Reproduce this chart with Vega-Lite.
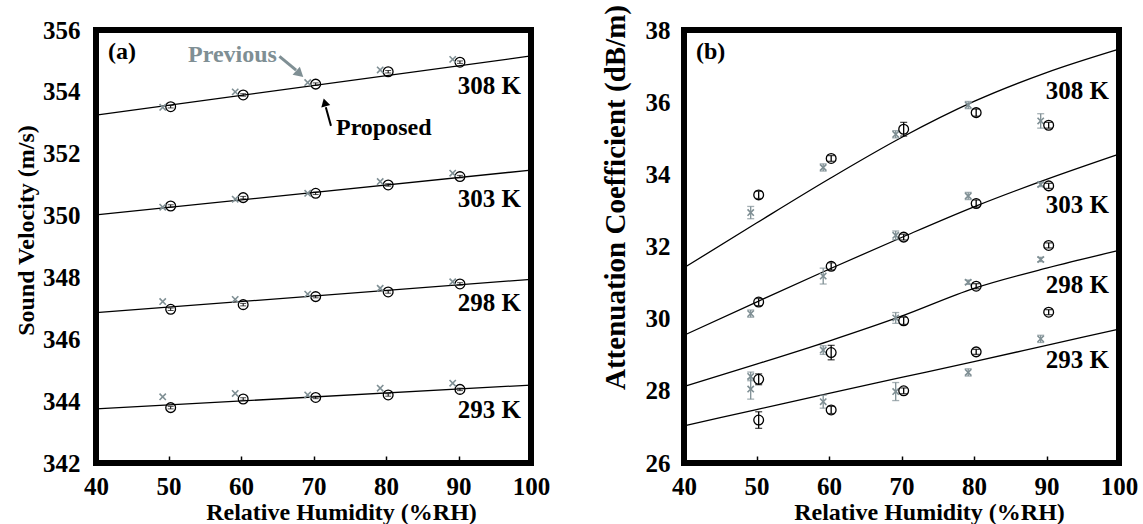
{
  "$schema": "https://vega.github.io/schema/vega-lite/v6.json",
  "background": "white",
  "padding": {"left": 11, "top": 1, "right": 5, "bottom": 5},
  "spacing": 153,
  "bounds": "flush",
  "datasets": {
    "linesA": [
      {"rh": 40, "v": 353.25, "T": "308"}, {"rh": 100, "v": 355.16, "T": "308"},
      {"rh": 40, "v": 350.02, "T": "303"}, {"rh": 100, "v": 351.47, "T": "303"},
      {"rh": 40, "v": 346.86, "T": "298"}, {"rh": 100, "v": 347.94, "T": "298"},
      {"rh": 40, "v": 343.75, "T": "293"}, {"rh": 100, "v": 344.52, "T": "293"}
    ],
    "propA": [
      {"rh": 50.3, "v": 353.52, "lo": 353.48, "hi": 353.56, "T": "308"},
      {"rh": 60.3, "v": 353.90, "lo": 353.86, "hi": 353.94, "T": "308"},
      {"rh": 70.3, "v": 354.25, "lo": 354.21, "hi": 354.29, "T": "308"},
      {"rh": 80.3, "v": 354.65, "lo": 354.61, "hi": 354.69, "T": "308"},
      {"rh": 90.2, "v": 354.96, "lo": 354.92, "hi": 355.00, "T": "308"},
      {"rh": 50.3, "v": 350.31, "lo": 350.27, "hi": 350.35, "T": "303"},
      {"rh": 60.3, "v": 350.58, "lo": 350.54, "hi": 350.62, "T": "303"},
      {"rh": 70.3, "v": 350.72, "lo": 350.68, "hi": 350.76, "T": "303"},
      {"rh": 80.3, "v": 350.99, "lo": 350.95, "hi": 351.03, "T": "303"},
      {"rh": 90.2, "v": 351.26, "lo": 351.22, "hi": 351.30, "T": "303"},
      {"rh": 50.3, "v": 346.97, "lo": 346.93, "hi": 347.01, "T": "298"},
      {"rh": 60.3, "v": 347.12, "lo": 347.08, "hi": 347.16, "T": "298"},
      {"rh": 70.3, "v": 347.38, "lo": 347.34, "hi": 347.42, "T": "298"},
      {"rh": 80.3, "v": 347.53, "lo": 347.49, "hi": 347.57, "T": "298"},
      {"rh": 90.2, "v": 347.79, "lo": 347.75, "hi": 347.83, "T": "298"},
      {"rh": 50.3, "v": 343.79, "lo": 343.75, "hi": 343.83, "T": "293"},
      {"rh": 60.3, "v": 344.07, "lo": 344.03, "hi": 344.11, "T": "293"},
      {"rh": 70.3, "v": 344.12, "lo": 344.08, "hi": 344.16, "T": "293"},
      {"rh": 80.3, "v": 344.20, "lo": 344.16, "hi": 344.24, "T": "293"},
      {"rh": 90.2, "v": 344.38, "lo": 344.34, "hi": 344.42, "T": "293"}
    ],
    "prevA": [
      {"rh": 49.2, "v": 353.50, "T": "308"}, {"rh": 59.2, "v": 354.00, "T": "308"},
      {"rh": 69.2, "v": 354.30, "T": "308"}, {"rh": 79.2, "v": 354.71, "T": "308"},
      {"rh": 89.2, "v": 355.05, "T": "308"},
      {"rh": 49.2, "v": 350.27, "T": "303"}, {"rh": 59.2, "v": 350.53, "T": "303"},
      {"rh": 69.2, "v": 350.72, "T": "303"}, {"rh": 79.2, "v": 351.10, "T": "303"},
      {"rh": 89.2, "v": 351.37, "T": "303"},
      {"rh": 49.2, "v": 347.22, "T": "298"}, {"rh": 59.2, "v": 347.29, "T": "298"},
      {"rh": 69.2, "v": 347.46, "T": "298"}, {"rh": 79.2, "v": 347.65, "T": "298"},
      {"rh": 89.2, "v": 347.86, "T": "298"},
      {"rh": 49.2, "v": 344.14, "T": "293"}, {"rh": 59.2, "v": 344.25, "T": "293"},
      {"rh": 69.2, "v": 344.20, "T": "293"}, {"rh": 79.2, "v": 344.42, "T": "293"},
      {"rh": 89.2, "v": 344.58, "T": "293"}
    ],
    "labelsA": [
      {"rh": 98.6, "v": 354.19, "label": "308 K"},
      {"rh": 98.6, "v": 350.55, "label": "303 K"},
      {"rh": 98.6, "v": 347.16, "label": "298 K"},
      {"rh": 98.6, "v": 343.71, "label": "293 K"}
    ],
    "panelA": [{"rh": 41.65, "v": 355.29, "label": "(a)"}],
    "prevTextA": [{"rh": 52.7, "v": 355.19, "label": "Previous"}],
    "propTextA": [{"rh": 73.1, "v": 352.83, "label": "Proposed"}],
    "prevArrowA": [{"rh": 65.3, "v": 355.15, "rh2": 67.6, "v2": 354.7, "hx": 68.1, "hv": 354.58}],
    "propArrowA": [{"rh": 72.41, "v": 352.9, "rh2": 71.7, "v2": 353.5, "hx": 71.55, "hv": 353.66}],
    "linesB": [
      {"rh": 40, "v": 31.41, "T": "308"}, {"rh": 50, "v": 32.65, "T": "308"},
      {"rh": 60, "v": 33.87, "T": "308"}, {"rh": 70, "v": 35.02, "T": "308"},
      {"rh": 80, "v": 36.02, "T": "308"}, {"rh": 90, "v": 36.82, "T": "308"},
      {"rh": 100, "v": 37.47, "T": "308"},
      {"rh": 40, "v": 29.54, "T": "303"}, {"rh": 50, "v": 30.46, "T": "303"},
      {"rh": 60, "v": 31.37, "T": "303"}, {"rh": 70, "v": 32.25, "T": "303"},
      {"rh": 80, "v": 33.10, "T": "303"}, {"rh": 90, "v": 33.86, "T": "303"},
      {"rh": 100, "v": 34.56, "T": "303"},
      {"rh": 40, "v": 28.12, "T": "298"}, {"rh": 50, "v": 28.74, "T": "298"},
      {"rh": 60, "v": 29.38, "T": "298"}, {"rh": 70, "v": 30.07, "T": "298"},
      {"rh": 80, "v": 30.84, "T": "298"}, {"rh": 90, "v": 31.40, "T": "298"},
      {"rh": 100, "v": 31.89, "T": "298"},
      {"rh": 40, "v": 27.03, "T": "293"}, {"rh": 50, "v": 27.48, "T": "293"},
      {"rh": 60, "v": 27.93, "T": "293"}, {"rh": 70, "v": 28.37, "T": "293"},
      {"rh": 80, "v": 28.81, "T": "293"}, {"rh": 90, "v": 29.26, "T": "293"},
      {"rh": 100, "v": 29.71, "T": "293"}
    ],
    "propB": [
      {"rh": 50.3, "v": 33.43, "lo": 33.33, "hi": 33.53, "T": "308"},
      {"rh": 60.3, "v": 34.44, "lo": 34.36, "hi": 34.52, "T": "308"},
      {"rh": 70.3, "v": 35.25, "lo": 35.06, "hi": 35.44, "T": "308"},
      {"rh": 80.3, "v": 35.71, "lo": 35.61, "hi": 35.81, "T": "308"},
      {"rh": 90.3, "v": 35.36, "lo": 35.28, "hi": 35.44, "T": "308"},
      {"rh": 50.3, "v": 30.46, "lo": 30.36, "hi": 30.56, "T": "303"},
      {"rh": 60.3, "v": 31.45, "lo": 31.35, "hi": 31.55, "T": "303"},
      {"rh": 70.3, "v": 32.26, "lo": 32.18, "hi": 32.34, "T": "303"},
      {"rh": 80.3, "v": 33.19, "lo": 33.09, "hi": 33.29, "T": "303"},
      {"rh": 90.3, "v": 33.68, "lo": 33.61, "hi": 33.75, "T": "303"},
      {"rh": 50.3, "v": 28.32, "lo": 28.17, "hi": 28.47, "T": "298"},
      {"rh": 60.3, "v": 29.06, "lo": 28.86, "hi": 29.26, "T": "298"},
      {"rh": 70.3, "v": 29.94, "lo": 29.84, "hi": 30.04, "T": "298"},
      {"rh": 80.3, "v": 30.90, "lo": 30.83, "hi": 30.97, "T": "298"},
      {"rh": 90.3, "v": 32.03, "lo": 31.96, "hi": 32.10, "T": "298"},
      {"rh": 50.3, "v": 27.19, "lo": 26.96, "hi": 27.42, "T": "293"},
      {"rh": 60.3, "v": 27.47, "lo": 27.37, "hi": 27.57, "T": "293"},
      {"rh": 70.3, "v": 28.00, "lo": 27.92, "hi": 28.08, "T": "293"},
      {"rh": 80.3, "v": 29.08, "lo": 29.01, "hi": 29.15, "T": "293"},
      {"rh": 90.3, "v": 30.18, "lo": 30.11, "hi": 30.25, "T": "293"}
    ],
    "prevB": [
      {"rh": 49.2, "v": 32.94, "lo": 32.77, "hi": 33.11, "T": "308"},
      {"rh": 59.2, "v": 34.19, "lo": 34.09, "hi": 34.29, "T": "308"},
      {"rh": 69.2, "v": 35.11, "lo": 35.01, "hi": 35.21, "T": "308"},
      {"rh": 79.2, "v": 35.92, "lo": 35.82, "hi": 36.02, "T": "308"},
      {"rh": 89.2, "v": 35.48, "lo": 35.28, "hi": 35.68, "T": "308"},
      {"rh": 49.2, "v": 30.14, "lo": 30.04, "hi": 30.24, "T": "303"},
      {"rh": 59.2, "v": 31.18, "lo": 30.96, "hi": 31.40, "T": "303"},
      {"rh": 69.2, "v": 32.31, "lo": 32.19, "hi": 32.43, "T": "303"},
      {"rh": 79.2, "v": 33.40, "lo": 33.30, "hi": 33.50, "T": "303"},
      {"rh": 89.2, "v": 33.72, "lo": 33.66, "hi": 33.78, "T": "303"},
      {"rh": 49.2, "v": 28.40, "lo": 28.28, "hi": 28.52, "T": "298"},
      {"rh": 59.2, "v": 29.13, "lo": 29.01, "hi": 29.25, "T": "298"},
      {"rh": 69.2, "v": 30.02, "lo": 29.87, "hi": 30.17, "T": "298"},
      {"rh": 79.2, "v": 31.01, "lo": 30.95, "hi": 31.07, "T": "298"},
      {"rh": 89.2, "v": 31.64, "lo": 31.58, "hi": 31.70, "T": "298"},
      {"rh": 49.2, "v": 28.05, "lo": 27.77, "hi": 28.33, "T": "293"},
      {"rh": 59.2, "v": 27.70, "lo": 27.52, "hi": 27.88, "T": "293"},
      {"rh": 69.2, "v": 27.98, "lo": 27.73, "hi": 28.23, "T": "293"},
      {"rh": 79.2, "v": 28.51, "lo": 28.41, "hi": 28.61, "T": "293"},
      {"rh": 89.2, "v": 29.44, "lo": 29.34, "hi": 29.54, "T": "293"}
    ],
    "labelsB": [
      {"rh": 98.6, "v": 36.31, "label": "308 K"},
      {"rh": 98.6, "v": 33.14, "label": "303 K"},
      {"rh": 98.6, "v": 30.92, "label": "298 K"},
      {"rh": 98.6, "v": 28.86, "label": "293 K"}
    ],
    "panelB": [{"rh": 41.66, "v": 37.39, "label": "(b)"}]
  },
  "hconcat": [
    {
      "width": 435,
      "height": 433,
      "layer": [
        {
          "data": {"name": "linesA"},
          "mark": {"type": "line", "color": "black", "strokeWidth": 1.3},
          "encoding": {
            "x": {"field": "rh", "type": "quantitative", "scale": {"domain": [40, 100], "nice": false},
                  "axis": {"title": "Relative Humidity (%RH)", "values": [40, 50, 60, 70, 80, 90, 100], "titleX": 245}},
            "y": {"field": "v", "type": "quantitative", "scale": {"domain": [342, 356], "nice": false, "zero": false},
                  "axis": {"title": "Sound Velocity (m/s)", "values": [342, 344, 346, 348, 350, 352, 354, 356], "orient": "left", "ticks": false, "titleY": 200, "labelPadding": 16, "titlePadding": 4}},
            "detail": {"field": "T"}
          }
        },
        {
          "data": {"name": "propA"},
          "mark": {"type": "rule", "color": "black", "strokeWidth": 1},
          "encoding": {"x": {"field": "rh", "type": "quantitative"}, "y": {"field": "lo", "type": "quantitative"}, "y2": {"field": "hi"}}
        },
        {
          "data": {"name": "propA"},
          "mark": {"type": "tick", "orient": "horizontal", "color": "black", "size": 6, "thickness": 1},
          "encoding": {"x": {"field": "rh", "type": "quantitative"}, "y": {"field": "lo", "type": "quantitative"}}
        },
        {
          "data": {"name": "propA"},
          "mark": {"type": "tick", "orient": "horizontal", "color": "black", "size": 6, "thickness": 1},
          "encoding": {"x": {"field": "rh", "type": "quantitative"}, "y": {"field": "hi", "type": "quantitative"}}
        },
        {
          "data": {"name": "propA"},
          "mark": {"type": "point", "filled": false, "color": "black", "size": 95, "strokeWidth": 1.3, "opacity": 1},
          "encoding": {"x": {"field": "rh", "type": "quantitative"}, "y": {"field": "v", "type": "quantitative"}}
        },
        {
          "data": {"name": "prevA"},
          "mark": {"type": "point", "filled": false, "shape": "M-1,-1L1,1M-1,1L1,-1", "color": "#7f8f94", "size": 40, "strokeWidth": 1.6, "opacity": 1},
          "encoding": {"x": {"field": "rh", "type": "quantitative"}, "y": {"field": "v", "type": "quantitative"}}
        },
        {
          "data": {"name": "prevArrowA"},
          "mark": {"type": "rule", "color": "#7f8f94", "strokeWidth": 3},
          "encoding": {"x": {"field": "rh", "type": "quantitative"}, "y": {"field": "v", "type": "quantitative"}, "x2": {"field": "rh2"}, "y2": {"field": "v2"}}
        },
        {
          "data": {"name": "prevArrowA"},
          "mark": {"type": "point", "shape": "triangle-up", "filled": true, "color": "#7f8f94", "size": 120, "angle": 132, "opacity": 1},
          "encoding": {"x": {"field": "hx", "type": "quantitative"}, "y": {"field": "hv", "type": "quantitative"}}
        },
        {
          "data": {"name": "propArrowA"},
          "mark": {"type": "rule", "color": "black", "strokeWidth": 2},
          "encoding": {"x": {"field": "rh", "type": "quantitative"}, "y": {"field": "v", "type": "quantitative"}, "x2": {"field": "rh2"}, "y2": {"field": "v2"}}
        },
        {
          "data": {"name": "propArrowA"},
          "mark": {"type": "point", "shape": "triangle-up", "filled": true, "color": "black", "size": 85, "angle": 345, "opacity": 1},
          "encoding": {"x": {"field": "hx", "type": "quantitative"}, "y": {"field": "hv", "type": "quantitative"}}
        },
        {
          "data": {"name": "labelsA"},
          "mark": {"type": "text", "align": "right", "baseline": "middle", "fontSize": 25, "fontWeight": "bold", "font": "Liberation Serif", "color": "black"},
          "encoding": {"x": {"field": "rh", "type": "quantitative"}, "y": {"field": "v", "type": "quantitative"}, "text": {"field": "label"}}
        },
        {
          "data": {"name": "panelA"},
          "mark": {"type": "text", "align": "left", "baseline": "middle", "fontSize": 24, "fontWeight": "bold", "font": "Liberation Serif", "color": "black"},
          "encoding": {"x": {"field": "rh", "type": "quantitative"}, "y": {"field": "v", "type": "quantitative"}, "text": {"field": "label"}}
        },
        {
          "data": {"name": "prevTextA"},
          "mark": {"type": "text", "align": "left", "baseline": "middle", "fontSize": 24, "fontWeight": "bold", "font": "Liberation Serif", "color": "#7f8f94"},
          "encoding": {"x": {"field": "rh", "type": "quantitative"}, "y": {"field": "v", "type": "quantitative"}, "text": {"field": "label"}}
        },
        {
          "data": {"name": "propTextA"},
          "mark": {"type": "text", "align": "left", "baseline": "middle", "fontSize": 24, "fontWeight": "bold", "font": "Liberation Serif", "color": "black"},
          "encoding": {"x": {"field": "rh", "type": "quantitative"}, "y": {"field": "v", "type": "quantitative"}, "text": {"field": "label"}}
        }
      ]
    },
    {
      "width": 435,
      "height": 433,
      "layer": [
        {
          "data": {"name": "linesB"},
          "mark": {"type": "line", "color": "black", "strokeWidth": 1.3, "interpolate": "monotone"},
          "encoding": {
            "x": {"field": "rh", "type": "quantitative", "scale": {"domain": [40, 100], "nice": false},
                  "axis": {"title": "Relative Humidity (%RH)", "values": [40, 50, 60, 70, 80, 90, 100], "titleX": 245}},
            "y": {"field": "v", "type": "quantitative", "scale": {"domain": [26, 38], "nice": false, "zero": false},
                  "axis": {"title": "Attenuation Coefficient (dB/m)", "values": [26, 28, 30, 32, 34, 36, 38], "orient": "left", "ticks": false, "titleY": 167, "titleFontSize": 29, "labelPadding": 14, "titlePadding": 15}},
            "detail": {"field": "T"}
          }
        },
        {
          "data": {"name": "prevB"},
          "mark": {"type": "rule", "color": "#7f8f94", "strokeWidth": 1.3},
          "encoding": {"x": {"field": "rh", "type": "quantitative"}, "y": {"field": "lo", "type": "quantitative"}, "y2": {"field": "hi"}}
        },
        {
          "data": {"name": "prevB"},
          "mark": {"type": "tick", "orient": "horizontal", "color": "#7f8f94", "size": 7, "thickness": 1.3},
          "encoding": {"x": {"field": "rh", "type": "quantitative"}, "y": {"field": "lo", "type": "quantitative"}}
        },
        {
          "data": {"name": "prevB"},
          "mark": {"type": "tick", "orient": "horizontal", "color": "#7f8f94", "size": 7, "thickness": 1.3},
          "encoding": {"x": {"field": "rh", "type": "quantitative"}, "y": {"field": "hi", "type": "quantitative"}}
        },
        {
          "data": {"name": "prevB"},
          "mark": {"type": "point", "filled": false, "shape": "M-1,-1L1,1M-1,1L1,-1", "color": "#7f8f94", "size": 40, "strokeWidth": 1.6, "opacity": 1},
          "encoding": {"x": {"field": "rh", "type": "quantitative"}, "y": {"field": "v", "type": "quantitative"}}
        },
        {
          "data": {"name": "propB"},
          "mark": {"type": "rule", "color": "black", "strokeWidth": 1.3},
          "encoding": {"x": {"field": "rh", "type": "quantitative"}, "y": {"field": "lo", "type": "quantitative"}, "y2": {"field": "hi"}}
        },
        {
          "data": {"name": "propB"},
          "mark": {"type": "tick", "orient": "horizontal", "color": "black", "size": 7, "thickness": 1.3},
          "encoding": {"x": {"field": "rh", "type": "quantitative"}, "y": {"field": "lo", "type": "quantitative"}}
        },
        {
          "data": {"name": "propB"},
          "mark": {"type": "tick", "orient": "horizontal", "color": "black", "size": 7, "thickness": 1.3},
          "encoding": {"x": {"field": "rh", "type": "quantitative"}, "y": {"field": "hi", "type": "quantitative"}}
        },
        {
          "data": {"name": "propB"},
          "mark": {"type": "point", "filled": false, "color": "black", "size": 95, "strokeWidth": 1.3, "opacity": 1},
          "encoding": {"x": {"field": "rh", "type": "quantitative"}, "y": {"field": "v", "type": "quantitative"}}
        },
        {
          "data": {"name": "labelsB"},
          "mark": {"type": "text", "align": "right", "baseline": "middle", "fontSize": 25, "fontWeight": "bold", "font": "Liberation Serif", "color": "black"},
          "encoding": {"x": {"field": "rh", "type": "quantitative"}, "y": {"field": "v", "type": "quantitative"}, "text": {"field": "label"}}
        },
        {
          "data": {"name": "panelB"},
          "mark": {"type": "text", "align": "left", "baseline": "middle", "fontSize": 24, "fontWeight": "bold", "font": "Liberation Serif", "color": "black"},
          "encoding": {"x": {"field": "rh", "type": "quantitative"}, "y": {"field": "v", "type": "quantitative"}, "text": {"field": "label"}}
        }
      ]
    }
  ],
  "config": {
    "font": "Liberation Serif",
    "view": {"stroke": "black", "strokeWidth": 6},
    "axis": {
      "grid": false,
      "domain": false,
      "labelFont": "Liberation Serif",
      "labelFontSize": 25,
      "labelFontWeight": "bold",
      "labelColor": "black",
      "titleFont": "Liberation Serif",
      "titleFontSize": 24,
      "titleFontWeight": "bold",
      "titleColor": "black"
    },
    "axisX": {"tickSize": -7, "tickWidth": 1.5, "tickColor": "black", "labelFlush": false, "labelPadding": 18, "titlePadding": 1}
  }
}
